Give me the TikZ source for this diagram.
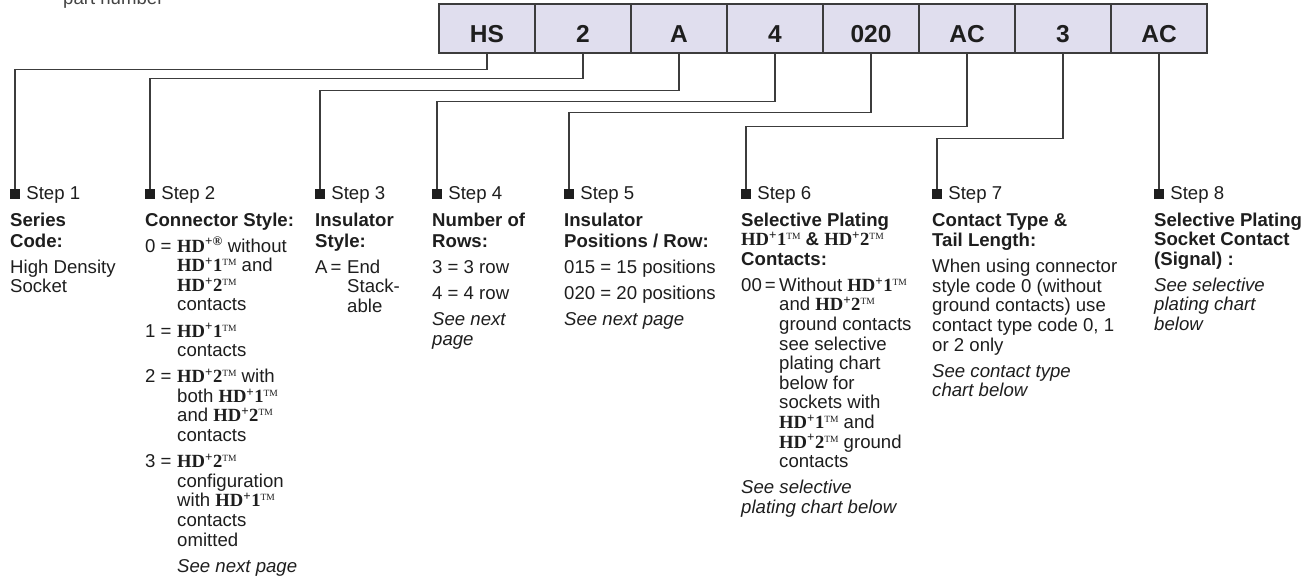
\documentclass[tikz,border=0pt]{standalone}
\usepackage{fontspec}
\setmainfont{Liberation Sans}
\newfontfamily\hdf{Liberation Serif}
\definecolor{boxfill}{HTML}{E0DEEE}
\definecolor{linec}{HTML}{3C3C3C}
\definecolor{ink}{HTML}{1E1E1E}
\definecolor{pngray}{HTML}{444444}
\newcommand\tmk{\raisebox{6pt}{\fontsize{9.5}{10}\selectfont\mdseries TM}}
\newcommand\HDr{{\hdf\bfseries HD\textsuperscript{+®}}}
\newcommand\HDa{{\hdf\bfseries HD\textsuperscript{+}1\tmk}}
\newcommand\HDb{{\hdf\bfseries HD\textsuperscript{+}2\tmk}}
\newcommand\gapp{\par\vspace{6.5pt}}
\newcommand\itm[3]{\gapp\hangindent=#1\hangafter=1\makebox[#1][l]{#2}#3\par}
\newcommand\colbox[1]{\parbox[t]{260pt}{\fontsize{18.6}{19.6}\selectfont\parindent=0pt\parskip=0pt #1}}
\tikzset{
  pbox/.style={draw=linec, line width=1.3pt, fill=boxfill, minimum width=96pt, minimum height=49pt,
    inner sep=0pt, text height=29pt, text depth=0pt, font=\fontsize{24.5}{26}\selectfont\bfseries, text=ink},
  sqmark/.style={fill=ink, draw=none, minimum size=10pt, inner sep=0pt},
  steplbl/.style={anchor=base west, inner sep=0pt, font=\fontsize{18.6}{19.6}\selectfont, text=ink},
  coltext/.style={anchor=base west, inner sep=0pt, text=ink},
  conn/.style={draw=linec, line width=1.2pt}
}
\begin{document}
\begin{tikzpicture}[x=1pt, y=-1pt]
\useasboundingbox (0,0) rectangle (1313,577);
\fill[white] (0,0) rectangle (1313,577);

\node[anchor=base west, inner sep=0pt, text=pngray, font=\fontsize{18.6}{19.6}\selectfont] (pn) at (63,5) {part number};

% part number boxes
\node[pbox] (b1) at (487,28.5) {HS};
\node[pbox] (b2) at (583,28.5) {2};
\node[pbox] (b3) at (679,28.5) {A};
\node[pbox] (b4) at (775,28.5) {4};
\node[pbox] (b5) at (871,28.5) {020};
\node[pbox] (b6) at (967,28.5) {AC};
\node[pbox] (b7) at (1063,28.5) {3};
\node[pbox] (b8) at (1159,28.5) {AC};

% step markers
\node[sqmark] (m1) at (15,194) {};
\node[sqmark] (m2) at (150,194) {};
\node[sqmark] (m3) at (320,194) {};
\node[sqmark] (m4) at (437,194) {};
\node[sqmark] (m5) at (569,194) {};
\node[sqmark] (m6) at (746,194) {};
\node[sqmark] (m7) at (937,194) {};
\node[sqmark] (m8) at (1159,194) {};

\foreach \i in {1,...,8} {
  \node[steplbl] (s\i) at ([xshift=6pt]m\i.south east) {Step \i};
}

% connectors
\draw[conn] (b1.south) -- ++(0,16) -| (m1.north);
\draw[conn] (b2.south) -- ++(0,25) -| (m2.north);
\draw[conn] (b3.south) -- ++(0,37) -| (m3.north);
\draw[conn] (b4.south) -- ++(0,48) -| (m4.north);
\draw[conn] (b5.south) -- ++(0,59) -| (m5.north);
\draw[conn] (b6.south) -- ++(0,73) -| (m6.north);
\draw[conn] (b7.south) -- ++(0,85) -| (m7.north);
\draw[conn] (b8.south) -- (m8.north);

% column texts
\node[coltext] (t1) at (10,226) {\colbox{\textbf{Series}\\[1.5pt]\textbf{Code:}\gapp High Density\\Socket}};

\node[coltext] (t2) at (145,226) {\colbox{\textbf{Connector Style:}
\itm{32pt}{0 =}{\HDr{} without\\\HDa{} and\\\HDb\\contacts}
\itm{32pt}{1 =}{\HDa\\contacts}
\itm{32pt}{2 =}{\HDb{} with\\both \HDa\\and \HDb\\contacts}
\itm{32pt}{3 =}{\HDb\\configuration\\with \HDa\\contacts\\omitted}
\gapp\hspace*{32pt}\textit{See next page}}};

\node[coltext] (t3) at (315,226) {\colbox{\textbf{Insulator}\\[1.5pt]\textbf{Style:}
\itm{32pt}{A\hspace{3pt}=}{End\\Stack-\\able}}};

\node[coltext] (t4) at (432,226) {\colbox{\textbf{Number of}\\[1.5pt]\textbf{Rows:}\gapp 3 = 3 row\gapp 4 = 4 row\gapp\textit{See next}\\\textit{page}}};

\node[coltext] (t5) at (564,226) {\colbox{\textbf{Insulator}\\[1.5pt]\textbf{Positions / Row:}\gapp 015 = 15 positions\gapp 020 = 20 positions\gapp\textit{See next page}}};

\node[coltext] (t6) at (741,226) {\colbox{\textbf{Selective Plating}\\\HDa{} \textbf{\&} \HDb\\\textbf{Contacts:}
\itm{38pt}{00\hspace{3pt}=}{Without \HDa\\and \HDb\\ground contacts\\see selective\\plating chart\\below for\\sockets with\\\HDa{} and\\\HDb{} ground\\contacts}
\gapp\textit{See selective}\\\textit{plating chart below}}};

\node[coltext] (t7) at (932,226) {\colbox{\textbf{Contact Type \&}\\[1pt]\textbf{Tail Length:}\gapp When using connector\\style code 0 (without\\ground contacts) use\\contact type code 0, 1\\or 2 only\gapp\textit{See contact type}\\\textit{chart below}}};

\node[coltext] (t8) at (1154,226) {\colbox{\textbf{Selective Plating}\\\textbf{Socket Contact}\\\textbf{(Signal) :}\gapp\textit{See selective}\\\textit{plating chart}\\\textit{below}}};
\end{tikzpicture}
\end{document}
